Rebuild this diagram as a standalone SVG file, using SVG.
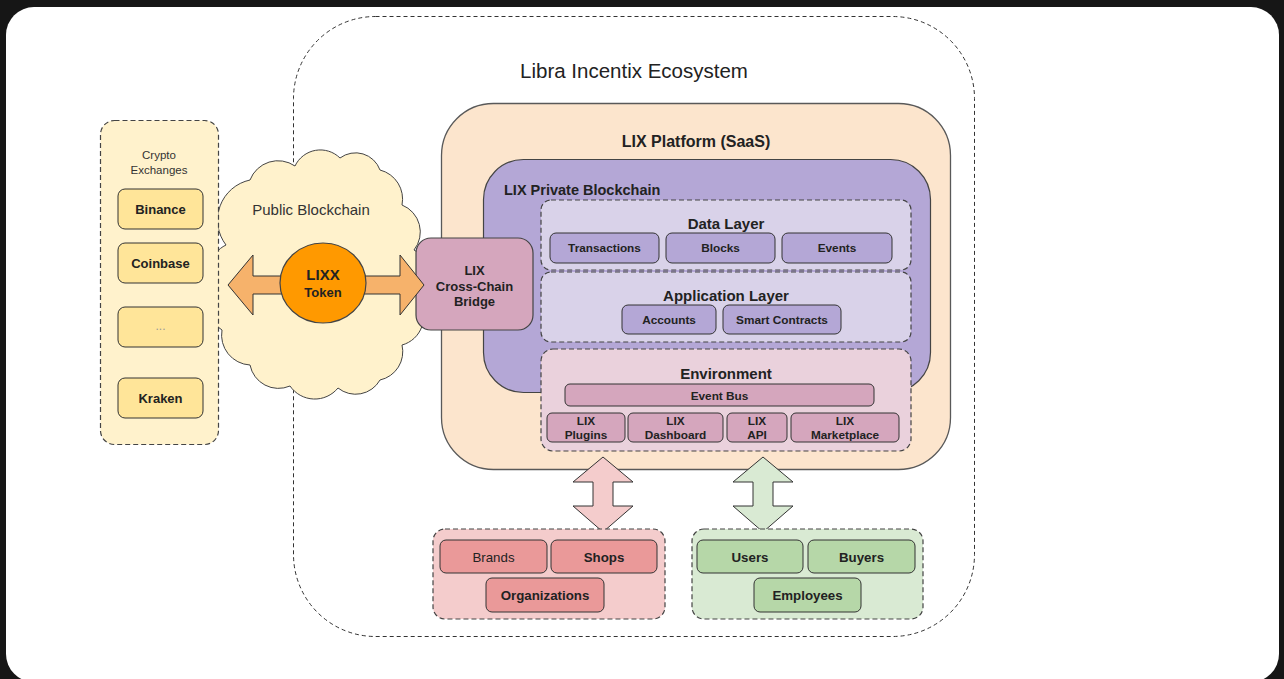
<svg xmlns="http://www.w3.org/2000/svg" width="1284" height="679" viewBox="0 0 1284 679">
<style>
text{font-family:"Liberation Sans",Arial,sans-serif;fill:#222;text-anchor:middle}
.b{font-weight:bold}
.dash{stroke:#444;stroke-width:1.2;stroke-dasharray:5 3}
.box{stroke:#333;stroke-width:1}
.it{font-size:11.8px;font-weight:bold}
.t13{font-size:13px}
.ttl{font-size:15px;font-weight:bold}
</style>
<rect x="0" y="0" width="1284" height="679" fill="#161616"/>
<rect x="6" y="7" width="1273" height="675" rx="28" fill="#ffffff"/>

<g id="ecosystem">
<rect x="293.5" y="16.5" width="681" height="620" rx="82" fill="none" stroke="#333" stroke-width="1" stroke-dasharray="4 3"/>
<text x="634" y="78" style="font-size:20.5px">Libra Incentix Ecosystem</text>
</g>

<g id="public-blockchain">
<path d="M226 245 A41 41 0 0 1 250 180 A30 30 0 0 1 295 166 A28 28 0 0 1 340 158 A26 26 0 0 1 380 170 A30 30 0 0 1 402 205 A29 29 0 0 1 414 250 A30 30 0 0 1 418 300 A29 29 0 0 1 402 345 A29 29 0 0 1 380 380 A28 28 0 0 1 338 388 A30 30 0 0 1 290 386 A29 29 0 0 1 250 365 A30 30 0 0 1 222 330 A25 25 0 0 1 218 290 A28 28 0 0 1 226 245 Z" fill="#fff2cc" stroke="#444" stroke-width="1"/>
<text x="311" y="215" style="font-size:15px;fill:#333">Public Blockchain</text>
</g>

<g id="crypto-exchanges">
<rect x="100.5" y="120.5" width="118" height="324" rx="14" fill="#fff2cc" class="dash"/>
<text x="159" y="159" style="font-size:11.5px;fill:#333">Crypto</text>
<text x="159" y="174" style="font-size:11.5px;fill:#333">Exchanges</text>
<g id="binance"><rect x="118" y="189" width="85" height="40" rx="7" fill="#ffe599" class="box"/><text x="160.5" y="214" class="b t13">Binance</text></g>
<g id="coinbase"><rect x="118" y="243" width="85" height="40" rx="7" fill="#ffe599" class="box"/><text x="160.5" y="268" class="b t13">Coinbase</text></g>
<g id="more"><rect x="118" y="307" width="85" height="40" rx="7" fill="#ffe599" class="box"/><text x="160.5" y="330" style="font-size:12px;fill:#999">...</text></g>
<g id="kraken"><rect x="118" y="378" width="85" height="40" rx="7" fill="#ffe599" class="box"/><text x="160.5" y="403" class="b t13">Kraken</text></g>
</g>

<g id="lix-platform">
<rect x="441.5" y="103.5" width="509" height="366" rx="52" fill="#fce5cd" stroke="#595959" stroke-width="1.3"/>
<text x="696" y="147" class="b" style="font-size:16px">LIX Platform (SaaS)</text>
</g>

<g id="private-blockchain">
<rect x="483.5" y="159.5" width="447" height="233" rx="40" fill="#b4a7d6" stroke="#444" stroke-width="1.2"/>
<text x="504" y="195" class="b" style="font-size:14.5px;text-anchor:start">LIX Private Blockchain</text>
</g>

<g id="data-layer">
<rect x="541" y="200" width="370" height="70" rx="10" fill="#d9d2e9" class="dash"/>
<text x="726" y="229" class="ttl">Data Layer</text>
<g id="transactions"><rect x="550" y="233" width="109" height="30" rx="6" fill="#b4a7d6" class="box"/><text x="604.5" y="252" class="it">Transactions</text></g>
<g id="blocks"><rect x="666" y="233" width="109" height="30" rx="6" fill="#b4a7d6" class="box"/><text x="720.5" y="252" class="it">Blocks</text></g>
<g id="events"><rect x="782" y="233" width="110" height="30" rx="6" fill="#b4a7d6" class="box"/><text x="837" y="252" class="it">Events</text></g>
</g>

<g id="application-layer">
<rect x="541" y="272" width="370" height="70" rx="10" fill="#d9d2e9" class="dash"/>
<text x="726" y="301" class="ttl">Application Layer</text>
<g id="accounts"><rect x="622" y="305" width="94" height="29" rx="6" fill="#b4a7d6" class="box"/><text x="669" y="324" class="it">Accounts</text></g>
<g id="smart-contracts"><rect x="723" y="305" width="118" height="29" rx="6" fill="#b4a7d6" class="box"/><text x="782" y="324" class="it">Smart Contracts</text></g>
</g>

<g id="environment">
<rect x="541" y="349" width="370" height="102" rx="12" fill="#ead1dc" class="dash"/>
<text x="726" y="379" class="ttl">Environment</text>
<g id="event-bus"><rect x="565" y="384" width="309" height="22" rx="5" fill="#d5a6bd" class="box"/><text x="719.5" y="399.5" class="it">Event Bus</text></g>
<g id="lix-plugins"><rect x="547" y="413" width="78" height="29" rx="5" fill="#d5a6bd" class="box"/><text x="586" y="424.5" class="it">LIX</text><text x="586" y="439" class="it">Plugins</text></g>
<g id="lix-dashboard"><rect x="628" y="413" width="95" height="29" rx="5" fill="#d5a6bd" class="box"/><text x="675.5" y="424.5" class="it">LIX</text><text x="675.5" y="439" class="it">Dashboard</text></g>
<g id="lix-api"><rect x="727" y="413" width="60" height="29" rx="5" fill="#d5a6bd" class="box"/><text x="757" y="424.5" class="it">LIX</text><text x="757" y="439" class="it">API</text></g>
<g id="lix-marketplace"><rect x="791" y="413" width="108" height="29" rx="5" fill="#d5a6bd" class="box"/><text x="845" y="424.5" class="it">LIX</text><text x="845" y="439" class="it">Marketplace</text></g>
</g>

<g id="cross-chain-bridge">
<rect x="416" y="238" width="117" height="92" rx="15" fill="#d5a6bd" stroke="#444" stroke-width="1.2"/>
<text x="474.5" y="275" class="b t13">LIX</text>
<text x="474.5" y="291" class="b t13">Cross-Chain</text>
<text x="474.5" y="306" class="b t13">Bridge</text>
</g>

<g id="connectors" stroke="#333" stroke-width="1">
<polygon points="228,285 253,255 253,276 400,276 400,255 424,285 400,315 400,294 253,294 253,315" fill="#f6b26b"/>
<polygon points="603,457 633,482 613,482 613,506 633,506 603,532 573,506 593,506 593,482 573,482" fill="#f4cccc"/>
<polygon points="763,457 793,482 773,482 773,506 793,506 763,532 733,506 753,506 753,482 733,482" fill="#d9ead3"/>
</g>

<g id="lixx-token">
<ellipse cx="323" cy="283" rx="43" ry="40" fill="#ff9900" stroke="#444" stroke-width="1.2"/>
<text x="323" y="280" class="b" style="font-size:15px">LIXX</text>
<text x="323" y="297" class="b" style="font-size:13px">Token</text>
</g>

<g id="organizations-group">
<rect x="433" y="529" width="232" height="90" rx="12" fill="#f4cccc" class="dash"/>
<g id="brands"><rect x="440" y="540" width="107" height="33" rx="6" fill="#ea9999" class="box"/><text x="493.5" y="561.5" style="font-size:13.3px">Brands</text></g>
<g id="shops"><rect x="551" y="540" width="106" height="33" rx="6" fill="#ea9999" class="box"/><text x="604" y="561.5" class="b" style="font-size:13.3px">Shops</text></g>
<g id="organizations"><rect x="486" y="578" width="118" height="34" rx="6" fill="#ea9999" class="box"/><text x="545" y="600" class="b" style="font-size:13.3px">Organizations</text></g>
</g>

<g id="users-group">
<rect x="692" y="529" width="231" height="90" rx="12" fill="#d9ead3" class="dash"/>
<g id="users"><rect x="697" y="540" width="106" height="33" rx="6" fill="#b6d7a8" class="box"/><text x="750" y="561.5" class="b" style="font-size:13.3px">Users</text></g>
<g id="buyers"><rect x="808" y="540" width="107" height="33" rx="6" fill="#b6d7a8" class="box"/><text x="861.5" y="561.5" class="b" style="font-size:13.3px">Buyers</text></g>
<g id="employees"><rect x="754" y="578" width="107" height="34" rx="6" fill="#b6d7a8" class="box"/><text x="807.5" y="600" class="b" style="font-size:13.3px">Employees</text></g>
</g>
</svg>
